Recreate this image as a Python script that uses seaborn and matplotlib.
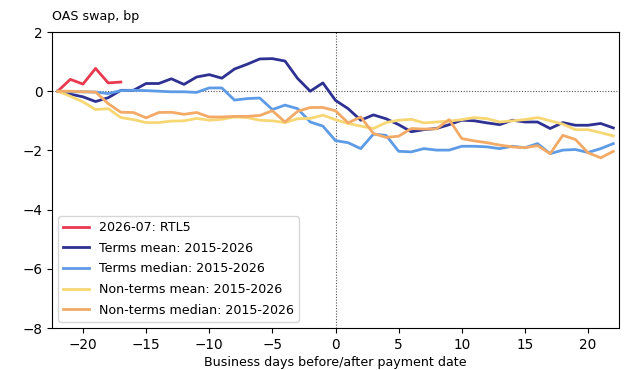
import numpy as np
import pandas as pd
import matplotlib
matplotlib.use("Agg")
import matplotlib.pyplot as plt
import seaborn as sns

# Business days relative to the payment date
days = list(range(-22, 23))

# Current episode (only the first few days are available)
rtl5_days = list(range(-22, -16))
rtl5 = [0.0, 0.40, 0.24, 0.77, 0.28, 0.31]

terms_mean = [0.0, -0.10, -0.19, -0.35, -0.22, 0.03, 0.03, 0.26, 0.26, 0.42, 0.23,
              0.48, 0.56, 0.44, 0.75, 0.91, 1.09, 1.10, 1.02, 0.43, 0.0, 0.28,
              -0.31, -0.59, -0.98, -0.80, -0.93, -1.13, -1.37, -1.30, -1.26, -1.13,
              -0.98, -1.00, -1.07, -1.13, -0.98, -1.04, -1.04, -1.26, -1.06, -1.15,
              -1.15, -1.09, -1.24]

terms_median = [0.0, -0.02, -0.02, -0.03, -0.08, 0.02, 0.03, 0.02, 0.0, -0.02, -0.02,
                -0.04, 0.11, 0.11, -0.30, -0.25, -0.23, -0.62, -0.47, -0.59, -1.04,
                -1.18, -1.67, -1.74, -1.94, -1.45, -1.49, -2.03, -2.05, -1.94, -1.99,
                -1.99, -1.86, -1.86, -1.88, -1.94, -1.86, -1.91, -1.77, -2.11, -1.99,
                -1.97, -2.07, -1.94, -1.77]

nonterms_mean = [0.0, -0.17, -0.36, -0.62, -0.59, -0.89, -0.96, -1.06, -1.06, -1.01,
                 -1.00, -0.92, -0.98, -0.95, -0.87, -0.89, -0.98, -1.00, -1.06, -0.93,
                 -0.92, -0.81, -0.96, -1.09, -1.18, -1.26, -1.06, -0.98, -0.95, -1.07,
                 -1.04, -1.01, -0.96, -0.89, -0.93, -1.04, -1.00, -0.96, -0.89, -1.00,
                 -1.11, -1.30, -1.30, -1.40, -1.51]

nonterms_median = [0.0, 0.0, -0.02, -0.03, -0.42, -0.71, -0.72, -0.90, -0.72, -0.71,
                   -0.78, -0.72, -0.87, -0.87, -0.85, -0.85, -0.82, -0.66, -1.04, -0.68,
                   -0.55, -0.55, -0.66, -1.07, -0.87, -1.43, -1.56, -1.52, -1.26, -1.28,
                   -1.27, -0.96, -1.60, -1.68, -1.74, -1.82, -1.88, -1.91, -1.84, -2.11,
                   -1.49, -1.63, -2.08, -2.25, -2.03]

labels = ["2026-07: RTL5", "Terms mean: 2015-2026", "Terms median: 2015-2026",
          "Non-terms mean: 2015-2026", "Non-terms median: 2015-2026"]
colors = ["#E8394F", "#2E3192", "#5E9BE6", "#F7D774", "#F2AA66"]

frames = [pd.DataFrame({"day": rtl5_days, "bp": rtl5, "series": labels[0]})]
for lab, vals in zip(labels[1:], [terms_mean, terms_median, nonterms_mean, nonterms_median]):
    frames.append(pd.DataFrame({"day": days, "bp": vals, "series": lab}))
df = pd.concat(frames, ignore_index=True)

plt.rcParams["font.size"] = 9.1

fig = plt.figure(figsize=(6.26, 3.70), dpi=100)
ax = fig.add_axes([0.0831, 0.1135, 0.9057, 0.8000])

ax.axhline(0, color="#555555", lw=0.8, ls=(0, (1, 1.5)), zorder=1)
ax.axvline(0, color="#555555", lw=0.8, ls=(0, (1, 1.5)), zorder=1)

sns.lineplot(data=df, x="day", y="bp", hue="series", hue_order=labels,
             palette=dict(zip(labels, colors)), linewidth=2, ax=ax, zorder=3)

ax.set_xlim(-22.45, 22.45)
ax.set_ylim(-8, 2)
ax.set_xticks([-20, -15, -10, -5, 0, 5, 10, 15, 20])
ax.set_yticks([-8, -6, -4, -2, 0, 2])
ax.tick_params(labelsize=9.8)
ax.set_xlabel("Business days before/after payment date", fontsize=9.1, labelpad=3)
ax.set_ylabel("")
ax.set_title("OAS swap, bp", loc="left", fontsize=9.1, pad=9)

leg = ax.legend(loc="lower left", fontsize=9.1, labelspacing=0.6)

fig.savefig("out.png", dpi=100)
